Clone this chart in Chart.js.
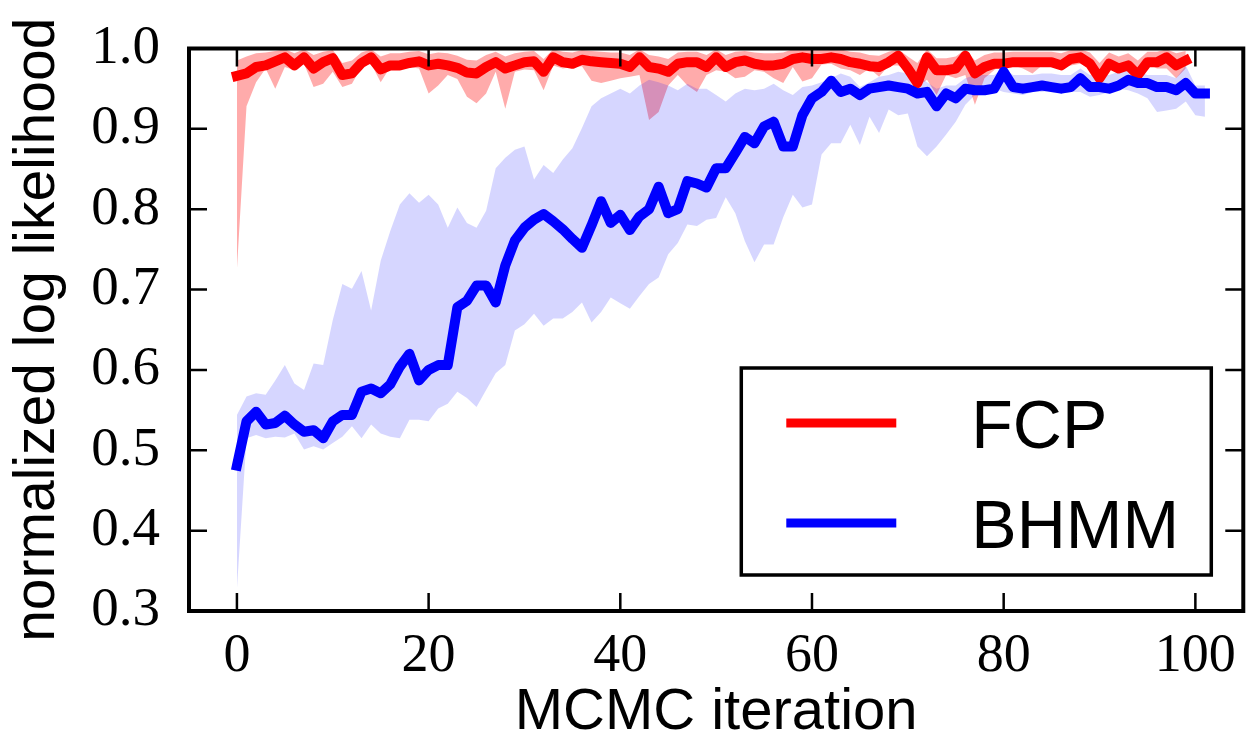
<!DOCTYPE html>
<html>
<head>
<meta charset="utf-8">
<script src="https://cdn.jsdelivr.net/npm/chart.js@4.4.1/dist/chart.umd.min.js"></script>
<style>
html, body { margin: 0; padding: 0; background: #fff; }
#wrap { width: 1247px; height: 742px; }
</style>
</head>
<body>
<div id="wrap"><canvas id="myChart" width="1247" height="742"></canvas></div>
<script>
// values, one entry per MCMC iteration
var seriesNames = ['FCP', 'BHMM'];
var xTicks = [0, 20, 40, 60, 80, 100];
var yTicks = [0.3, 0.4, 0.5, 0.6, 0.7, 0.8, 0.9, 1.0];

var fcpMean = [
  0.966, 0.969, 0.977, 0.979, 0.984, 0.989, 0.979, 0.989, 0.975, 0.983,
  0.988, 0.967, 0.969, 0.982, 0.989, 0.974, 0.979, 0.979, 0.982, 0.984,
  0.979, 0.981, 0.979, 0.976, 0.970, 0.969, 0.977, 0.983, 0.975, 0.979,
  0.983, 0.984, 0.971, 0.989, 0.983, 0.981, 0.986, 0.984, 0.983, 0.982,
  0.981, 0.977, 0.989, 0.977, 0.975, 0.971, 0.981, 0.983, 0.983, 0.977,
  0.989, 0.977, 0.983, 0.985, 0.981, 0.979, 0.979, 0.981, 0.987, 0.989,
  0.987, 0.987, 0.989, 0.987, 0.983, 0.981, 0.978, 0.977, 0.983, 0.991,
  0.975, 0.957, 0.989, 0.973, 0.973, 0.975, 0.991, 0.969, 0.977, 0.981,
  0.981, 0.983, 0.983, 0.983, 0.983, 0.983, 0.979, 0.987, 0.989, 0.981,
  0.963, 0.981, 0.975, 0.979, 0.967, 0.983, 0.983, 0.989, 0.979, 0.985
];
var fcpLow = [
  0.725, 0.928, 0.958, 0.975, 0.950, 0.977, 0.973, 0.981, 0.952, 0.956,
  0.971, 0.952, 0.956, 0.977, 0.981, 0.958, 0.977, 0.975, 0.977, 0.975,
  0.944, 0.954, 0.967, 0.962, 0.940, 0.932, 0.944, 0.971, 0.925, 0.971,
  0.974, 0.973, 0.948, 0.979, 0.975, 0.977, 0.978, 0.960, 0.957, 0.960,
  0.963, 0.965, 0.967, 0.911, 0.921, 0.954, 0.967, 0.954, 0.946, 0.967,
  0.973, 0.971, 0.963, 0.965, 0.973, 0.971, 0.963, 0.957, 0.977, 0.959,
  0.963, 0.980, 0.981, 0.975, 0.973, 0.967, 0.975, 0.965, 0.979, 0.979,
  0.971, 0.952, 0.961, 0.942, 0.967, 0.963, 0.967, 0.930, 0.963, 0.973,
  0.981, 0.979, 0.975, 0.969, 0.979, 0.977, 0.977, 0.979, 0.981, 0.975,
  0.961, 0.979, 0.971, 0.975, 0.958, 0.981, 0.975, 0.975, 0.963, 0.975
];
var fcpHigh = [
  0.985, 0.990, 0.994, 0.995, 0.997, 0.999, 0.994, 0.999, 0.992, 0.996,
  0.998, 0.982, 0.985, 0.995, 0.999, 0.990, 0.994, 0.994, 0.996, 0.997,
  0.993, 0.995, 0.994, 0.991, 0.986, 0.985, 0.992, 0.996, 0.990, 0.994,
  0.996, 0.997, 0.987, 0.999, 0.996, 0.995, 0.998, 0.997, 0.996, 0.995,
  0.995, 0.992, 0.999, 0.992, 0.990, 0.987, 0.995, 0.996, 0.996, 0.992,
  0.999, 0.992, 0.996, 0.997, 0.995, 0.994, 0.994, 0.995, 0.999, 0.999,
  0.999, 0.999, 0.999, 0.999, 0.996, 0.995, 0.992, 0.991, 0.996, 0.999,
  0.990, 0.982, 0.999, 0.988, 0.988, 0.990, 0.999, 0.985, 0.992, 0.995,
  0.995, 0.996, 0.996, 0.996, 0.996, 0.996, 0.994, 0.998, 0.999, 0.995,
  0.982, 0.995, 0.990, 0.994, 0.985, 0.996, 0.996, 0.999, 0.994, 0.997
];

var bhmmMean = [
  0.481, 0.536, 0.548, 0.532, 0.534, 0.543, 0.532, 0.523, 0.525, 0.515,
  0.536, 0.544, 0.544, 0.573, 0.577, 0.571, 0.582, 0.604, 0.620, 0.587,
  0.600, 0.606, 0.606, 0.678, 0.686, 0.705, 0.705, 0.684, 0.730, 0.761,
  0.777, 0.787, 0.794, 0.785, 0.775, 0.763, 0.752, 0.780, 0.810, 0.783,
  0.793, 0.774, 0.791, 0.800, 0.828, 0.795, 0.800, 0.835, 0.832, 0.827,
  0.851, 0.851, 0.870, 0.890, 0.882, 0.903, 0.909, 0.878, 0.878, 0.917,
  0.938, 0.946, 0.960, 0.946, 0.950, 0.942, 0.950, 0.952, 0.954, 0.952,
  0.950, 0.944, 0.946, 0.928, 0.944, 0.938, 0.950, 0.948, 0.948, 0.950,
  0.971, 0.952, 0.950, 0.952, 0.954, 0.952, 0.950, 0.952, 0.963, 0.952,
  0.952, 0.950, 0.954, 0.961, 0.957, 0.957, 0.952, 0.952, 0.948, 0.957,
  0.944, 0.944
];
var bhmmLow = [
  0.327, 0.515, 0.519, 0.515, 0.517, 0.516, 0.521, 0.501, 0.505, 0.501,
  0.509, 0.517, 0.530, 0.515, 0.532, 0.521, 0.517, 0.515, 0.538, 0.538,
  0.536, 0.552, 0.558, 0.573, 0.565, 0.554, 0.575, 0.596, 0.606, 0.649,
  0.657, 0.670, 0.655, 0.664, 0.664, 0.672, 0.684, 0.659, 0.672, 0.690,
  0.683, 0.676, 0.692, 0.707, 0.715, 0.744, 0.758, 0.781, 0.779, 0.787,
  0.789, 0.815, 0.795, 0.760, 0.734, 0.756, 0.756, 0.790, 0.818, 0.802,
  0.806, 0.868, 0.882, 0.882, 0.905, 0.880, 0.915, 0.895, 0.924, 0.917,
  0.919, 0.878, 0.866, 0.878, 0.893, 0.909, 0.930, 0.942, 0.944, 0.950,
  0.946, 0.944, 0.942, 0.946, 0.946, 0.948, 0.944, 0.946, 0.946, 0.940,
  0.942, 0.946, 0.950, 0.948, 0.944, 0.938, 0.921, 0.923, 0.925, 0.934,
  0.917, 0.915
];
var bhmmHigh = [
  0.544, 0.567, 0.571, 0.569, 0.587, 0.606, 0.583, 0.575, 0.608, 0.606,
  0.662, 0.707, 0.701, 0.723, 0.674, 0.736, 0.773, 0.806, 0.820, 0.808,
  0.818, 0.806, 0.777, 0.802, 0.783, 0.777, 0.798, 0.851, 0.864, 0.874,
  0.878, 0.837, 0.855, 0.845, 0.862, 0.876, 0.901, 0.928, 0.938, 0.944,
  0.950, 0.944, 0.954, 0.961, 0.958, 0.954, 0.948, 0.956, 0.950, 0.950,
  0.942, 0.934, 0.944, 0.950, 0.948, 0.950, 0.956, 0.948, 0.942, 0.952,
  0.954, 0.958, 0.963, 0.969, 0.965, 0.952, 0.958, 0.965, 0.967, 0.971,
  0.969, 0.967, 0.958, 0.950, 0.954, 0.954, 0.963, 0.967, 0.967, 0.967,
  0.975, 0.967, 0.967, 0.967, 0.969, 0.969, 0.967, 0.967, 0.975, 0.967,
  0.967, 0.967, 0.971, 0.975, 0.971, 0.967, 0.967, 0.967, 0.963, 0.979,
  0.954, 0.954
];

var red = '#ff0000';
var blue = '#0000ff';
var serifFont = '"Liberation Serif", "Times New Roman", serif';
var sansFont = '"Liberation Sans", Arial, sans-serif';

function toPoints(values) {
  return values.map(function (v, i) { return { x: i, y: v }; });
}

function band(values, fillTo, color, order) {
  return {
    data: toPoints(values),
    borderWidth: 0,
    borderColor: 'rgba(0,0,0,0)',
    backgroundColor: color,
    pointRadius: 0,
    fill: fillTo,
    order: order
  };
}

function meanLine(label, values, color, order) {
  return {
    label: label,
    data: toPoints(values),
    borderColor: color,
    borderWidth: 10,
    borderJoinStyle: 'round',
    borderCapStyle: 'square',
    pointRadius: 0,
    fill: false,
    tension: 0,
    order: order
  };
}

// frame, inward ticks on all four sides, and the legend box
var frameAndLegend = {
  id: 'frameAndLegend',
  afterDraw: function (chart) {
    var ctx = chart.ctx;
    var a = chart.chartArea;
    var xs = chart.scales.x;
    var ys = chart.scales.y;
    ctx.save();
    ctx.strokeStyle = '#000';
    ctx.lineWidth = 2.5;
    ctx.beginPath();
    xs.ticks.forEach(function (t) {
      var px = xs.getPixelForValue(t.value);
      ctx.moveTo(px, a.bottom); ctx.lineTo(px, a.bottom - 18);
      ctx.moveTo(px, a.top); ctx.lineTo(px, a.top + 18);
    });
    ys.ticks.forEach(function (t) {
      var py = ys.getPixelForValue(t.value);
      ctx.moveTo(a.left, py); ctx.lineTo(a.left + 18, py);
      ctx.moveTo(a.right, py); ctx.lineTo(a.right - 18, py);
    });
    ctx.stroke();
    ctx.lineWidth = 4;
    ctx.strokeRect(a.left, a.top, a.right - a.left, a.bottom - a.top);

    // legend
    var bw = 470, bh = 207;
    var bx = a.right - 32 - bw;
    var by = a.bottom - 36 - bh;
    ctx.fillStyle = '#fff';
    ctx.fillRect(bx, by, bw, bh);
    ctx.lineWidth = 3.5;
    ctx.strokeRect(bx, by, bw, bh);
    var colors = [red, blue];
    ctx.font = '68px ' + sansFont;
    ctx.textBaseline = 'alphabetic';
    ctx.textAlign = 'left';
    seriesNames.forEach(function (name, i) {
      var rowY = by + 55 + i * 100;
      ctx.strokeStyle = colors[i];
      ctx.lineWidth = 9;
      ctx.lineCap = 'butt';
      ctx.beginPath();
      ctx.moveTo(bx + 45, rowY);
      ctx.lineTo(bx + 155, rowY);
      ctx.stroke();
      ctx.fillStyle = '#000';
      ctx.fillText(name, bx + 230, rowY + 25);
    });
    ctx.restore();
  }
};

var ctx = document.getElementById('myChart');
var chart = new Chart(ctx, {
  type: 'line',
  data: {
    datasets: [
      band(fcpHigh, 1, 'rgba(255,0,0,0.33)', 6),
      band(fcpLow, false, 'rgba(0,0,0,0)', 5),
      band(bhmmHigh, 3, 'rgba(0,0,255,0.16)', 4),
      band(bhmmLow, false, 'rgba(0,0,0,0)', 3),
      meanLine(seriesNames[0], fcpMean, red, 2),
      meanLine(seriesNames[1], bhmmMean, blue, 1)
    ]
  },
  options: {
    responsive: false,
    animation: false,
    devicePixelRatio: 1,
    layout: { padding: { top: 46, right: 3, left: 0, bottom: 0 } },
    plugins: {
      legend: { display: false },
      tooltip: { enabled: false }
    },
    scales: {
      x: {
        type: 'linear',
        min: -5,
        max: 105,
        grid: { display: false },
        border: { display: false },
        afterBuildTicks: function (scale) {
          scale.ticks = xTicks.map(function (v) { return { value: v }; });
        },
        afterFit: function (scale) { scale.height = 131; },
        ticks: {
          maxRotation: 0,
          padding: 11,
          color: '#000',
          font: { family: serifFont, size: 54, lineHeight: 1 },
          callback: function (v) { return String(v); }
        },
        title: {
          display: true,
          text: 'MCMC iteration',
          color: '#000',
          padding: { top: 0, bottom: 0 },
          font: { family: sansFont, size: 58, lineHeight: 1 }
        }
      },
      y: {
        min: 0.3,
        max: 1.0,
        grid: { display: false },
        border: { display: false },
        afterBuildTicks: function (scale) {
          scale.ticks = yTicks.map(function (v) { return { value: v }; });
        },
        afterFit: function (scale) { scale.width = 189; },
        ticks: {
          padding: 21,
          color: '#000',
          font: { family: serifFont, size: 55, lineHeight: 1 },
          callback: function (v) { return Number(v).toFixed(1); }
        },
        title: {
          display: true,
          text: 'normalized log likelihood',
          color: '#000',
          padding: { top: 10, bottom: 0 },
          font: { family: sansFont, size: 57, lineHeight: 1 }
        }
      }
    }
  },
  plugins: [frameAndLegend]
});
</script>
</body>
</html>
